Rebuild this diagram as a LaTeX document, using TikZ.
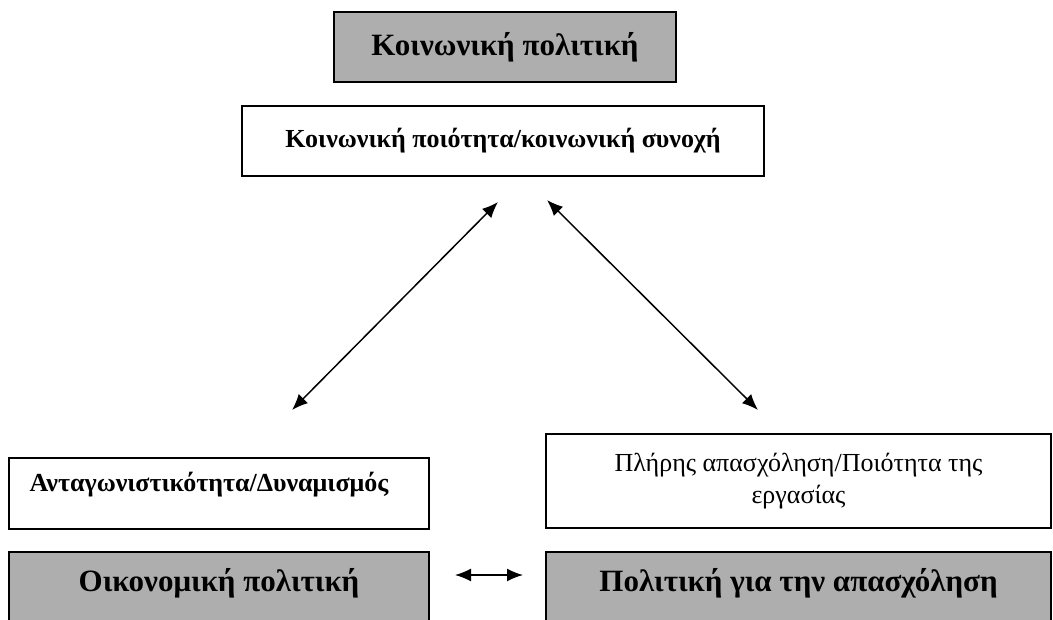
\documentclass[tikz,border=0pt]{standalone}
\usepackage{fontspec}
\setmainfont{Liberation Serif}
\usetikzlibrary{arrows.meta}
\definecolor{boxgray}{RGB}{174,174,174}
\tikzset{
  graybox/.style={draw,line width=1pt,fill=boxgray,inner sep=0pt,
    font=\bfseries\fontsize{15.5}{18}\selectfont},
  whitebox/.style={draw,line width=0.8pt,fill=white,inner sep=0pt,
    font=\bfseries\fontsize{13}{16}\selectfont},
  link/.style={line width=0.75pt,{Latex[length=8pt,width=6.5pt]}-{Latex[length=8pt,width=6.5pt]}}
}
\begin{document}
\begin{tikzpicture}[x=0.5pt,y=-0.5pt]
    \useasboundingbox (0,0) rectangle (1053,620);
    \node[graybox,minimum width=171pt,minimum height=35pt] (kp) at (505,47) {Κοινωνική πολιτική};
    \node[whitebox,minimum width=261pt,minimum height=35pt] (kps) at (503,141) {\raisebox{3pt}{Κοινωνική ποιότητα/κοινωνική συνοχή}};
    \node[whitebox,minimum width=210pt,minimum height=35.5pt] (ad) at (219,493.5) {\hspace*{-10pt}\raisebox{12pt}{Ανταγωνιστικότητα/Δυναμισμός}};
    \node[whitebox,minimum width=252.5pt,minimum height=47pt,align=center,
      font=\fontsize{13}{16}\selectfont] (pa) at (798.5,481) {Πλήρης απασχόληση/Ποιότητα της\\εργασίας};
    \node[graybox,minimum width=210pt,minimum height=36pt] (op) at (219,588) {\raisebox{8pt}{Οικονομική πολιτική}};
    \node[graybox,minimum width=252.5pt,minimum height=36pt] (pg) at (798.5,588) {\raisebox{8pt}{Πολιτική για την απασχόληση}};
    \coordinate (L1) at (498,202); \coordinate (L2) at (292,410);
    \coordinate (R1) at (547,200); \coordinate (R2) at (758,410);
    \coordinate (M1) at (455,575); \coordinate (M2) at (523,575);
    \draw[link] (L1) -- (L2);
    \draw[link] (R1) -- (R2);
    \draw[link] (M1) -- (M2);
\end{tikzpicture}
\end{document}
